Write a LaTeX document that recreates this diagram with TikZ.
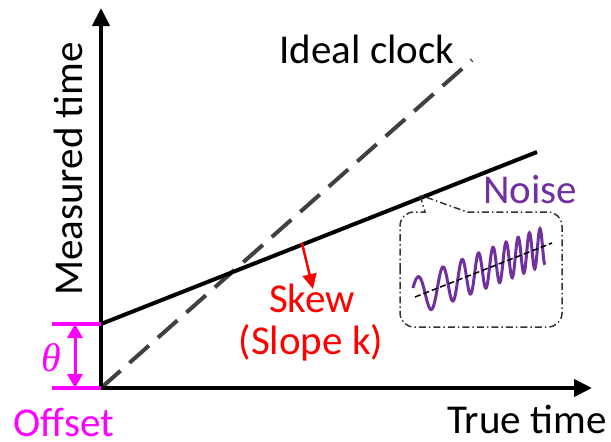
\documentclass[tikz,border=0pt]{standalone}
\usepackage{fontspec}
\setmainfont{Carlito}
\newfontfamily\thetafont{Liberation Serif}
\usetikzlibrary{arrows.meta}
\definecolor{mag}{HTML}{FF00FF}
\definecolor{skewred}{HTML}{FF0000}
\definecolor{noisepurple}{HTML}{7030A0}
\definecolor{idealgray}{HTML}{404040}
\tikzset{
  lbl/.style={font=\fontsize{41}{49}\selectfont, inner sep=0pt},
  axisline/.style={line width=4pt, -{Triangle[length=18pt,width=17pt]}},
  clockline/.style={line width=4pt, black},
  idealline/.style={line width=4pt, idealgray, dash pattern=on 26pt off 12pt},
  offtick/.style={line width=4pt, mag},
  offarrow/.style={line width=3pt, mag, {Triangle[length=14pt,width=15pt]}-{Triangle[length=14pt,width=15pt]}},
  skewarrow/.style={line width=2.5pt, skewred, -{Triangle[length=15pt,width=14pt]}},
  callout/.style={line width=1.5pt, black!80, dash pattern=on 7pt off 3pt on 1.5pt off 3pt},
  wave/.style={line width=3pt, noisepurple},
  baseline/.style={line width=1.5pt, black, dash pattern=on 6pt off 3pt}
}
\begin{document}
\begin{tikzpicture}[x=1pt,y=-1pt]
\path[use as bounding box] (0,0) rectangle (611,442);
% coordinates
\coordinate (O) at (101,388);
\coordinate (Ytop) at (101,8);
\coordinate (Xend) at (592,388);
\coordinate (S0) at (101,324);
\coordinate (S1) at (537,152);
\coordinate (D1) at (472,60);
\coordinate (T1) at (52,324);
\coordinate (T0) at (52,388);
\coordinate (A1) at (75,324);
\coordinate (A0) at (75,388);
\coordinate (K0) at (302,243);
\coordinate (K1) at (313,289);
\coordinate (W0) at (415,297);
\coordinate (W1) at (552,243);
% lines
\draw[idealline] (O) -- (D1);
\draw[clockline] (S0) -- (S1);
\draw[axisline] (O) -- (Ytop);
\draw[axisline] (O) -- (Xend);
% offset
\draw[offtick] (T1) -- (S0);
\draw[offtick] (T0) -- (O);
\draw[offarrow] (A1) -- (A0);
\node[lbl, text=mag, font=\thetafont\itshape\fontsize{40}{48}\selectfont, anchor=base] (theta) at (51,371) {θ};
\node[lbl, text=mag, anchor=base] (offset) at (64,436) {Offset};
% labels
\node[lbl, anchor=base] (ideal) at (367,63) {Ideal clock};
\node[lbl, anchor=base] (truet) at (527,433) {True time};
\node[lbl, anchor=base, rotate=90] (meas) at (82,169) {Measured time};
\node[lbl, anchor=base, text=noisepurple] (noise) at (530,203) {Noise};
% skew
\draw[skewarrow] (K0) -- (K1);
\node[lbl, anchor=base, text=skewred] (skew) at (312,312) {Skew};
\node[lbl, anchor=base, text=skewred] (slope) at (311,354) {(Slope k)};
% callout
\draw[callout] (400,270) -- (400,226) arc[start angle=180,end angle=270,radius=14]
  -- (425,212) -- (420,195) -- (467,212) -- (548,212)
  arc[start angle=270,end angle=360,radius=14] -- (562,313)
  arc[start angle=0,end angle=90,radius=14] -- (414,327)
  arc[start angle=90,end angle=180,radius=14] -- cycle;
% noise wave
\draw[wave] plot[domain=0:1, samples=300]
  ({413+132*\x}, {297-54*(132*\x-2)/137 - 19*sin(31+1483*\x+1635*\x*\x)});
\draw[baseline] (W0) -- (W1);
\end{tikzpicture}
\end{document}
